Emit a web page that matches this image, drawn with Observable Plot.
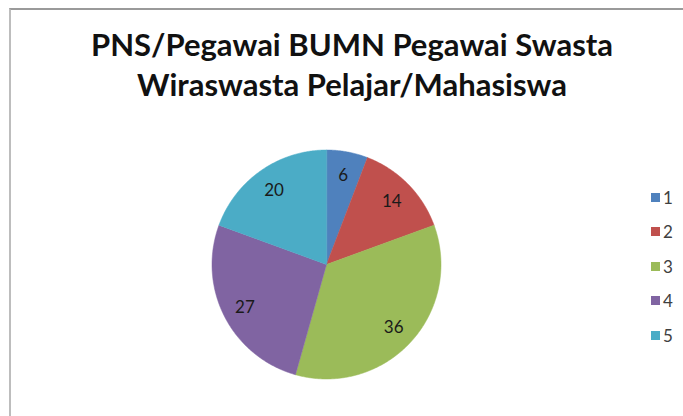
<!DOCTYPE html>
<html>
<head>
<meta charset="utf-8">
<script src="https://cdn.jsdelivr.net/npm/d3@7"></script>
<script src="https://cdn.jsdelivr.net/npm/@observablehq/plot@0.6"></script>
<style>
  html, body { margin: 0; padding: 0; background: #fff; }
  #chart { position: relative; width: 683px; height: 416px; overflow: hidden; background: #fff; font-family: Lato, "Open Sans", sans-serif; }
  #frame { position: absolute; left: 9px; top: 8px; width: 800px; height: 600px;
           border-top: 2px solid #9a9a9a; border-left: 2px solid #bdbdbd; box-sizing: border-box; }
  #title { position: relative; box-sizing: border-box; width: 683px; height: 110px; padding-top: 24px; padding-left: 21px;
           text-align: center; font-weight: 700; font-size: 31px; line-height: 40px; color: #111; }
  #plot { position: relative; }
  #legend { position: absolute; left: 651px; top: 0; font-size: 17px; color: #404040; }
  .item { position: absolute; left: 0; height: 20px; display: flex; align-items: center; white-space: nowrap; }
  .sw { width: 9px; height: 9px; margin-right: 3px; }
</style>
</head>
<body>
<div id="chart">
  <div id="frame"></div>
  <div id="title"></div>
  <div id="plot"></div>
  <div id="legend"></div>
</div>
<script>
const categories = ["1", "2", "3", "4", "5"];
const values = [6, 14, 36, 27, 20];
const colors = ["#4F81BD", "#C0504D", "#9BBB59", "#8064A2", "#4BACC6"];
const titleLines = ["PNS/Pegawai BUMN Pegawai Swasta", "Wiraswasta Pelajar/Mahasiswa"];

const data = categories.map((c, i) => ({key: c, value: values[i]}));
const arcs = d3.pie().sort(null).value(d => d.value)(data);

// polygon outline of each slice (unit circle, angle 0 at 12 o'clock, clockwise)
const slicePts = [];
for (const a of arcs) {
  slicePts.push({key: a.data.key, x: 0, y: 0});
  const n = Math.max(2, Math.ceil((a.endAngle - a.startAngle) / (Math.PI / 360)));
  for (let k = 0; k <= n; k++) {
    const t = a.startAngle + (a.endAngle - a.startAngle) * k / n;
    slicePts.push({key: a.data.key, x: Math.sin(t), y: Math.cos(t)});
  }
}
const labelR = 0.8;
const labels = arcs.map(a => {
  const m = (a.startAngle + a.endAngle) / 2;
  return {text: String(a.data.value), x: labelR * Math.sin(m), y: labelR * Math.cos(m)};
});

document.getElementById("title").innerHTML = titleLines.map(s => `<div>${s}</div>`).join("");

const W = 683, H = 306, cx = 326, cy = 154, R = 114.5;
const plot = Plot.plot({
  width: W, height: H,
  marginLeft: cx - R, marginRight: W - cx - R,
  marginTop: cy - R, marginBottom: H - cy - R,
  x: {domain: [-1, 1], axis: null},
  y: {domain: [-1, 1], axis: null},
  color: {domain: categories, range: colors},
  style: {fontFamily: "Lato, 'Open Sans', sans-serif", background: "transparent", overflow: "visible"},
  marks: [
    Plot.line(slicePts, {x: "x", y: "y", z: "key", fill: "key", stroke: "key", strokeWidth: 0.5, curve: "linear-closed"}),
    Plot.text(labels, {x: "x", y: "y", text: "text", fontSize: 17, fill: "#1a1a1a", dy: 1})
  ]
});
document.getElementById("plot").appendChild(plot);

const legend = document.getElementById("legend");
const rowTop = 187, rowStep = 34.5;
categories.forEach((c, i) => {
  const it = document.createElement("div");
  it.className = "item";
  it.style.top = (rowTop + i * rowStep) + "px";
  it.innerHTML = `<span class="sw" style="background:${colors[i]}"></span><span>${c}</span>`;
  legend.appendChild(it);
});
</script>
</body>
</html>
